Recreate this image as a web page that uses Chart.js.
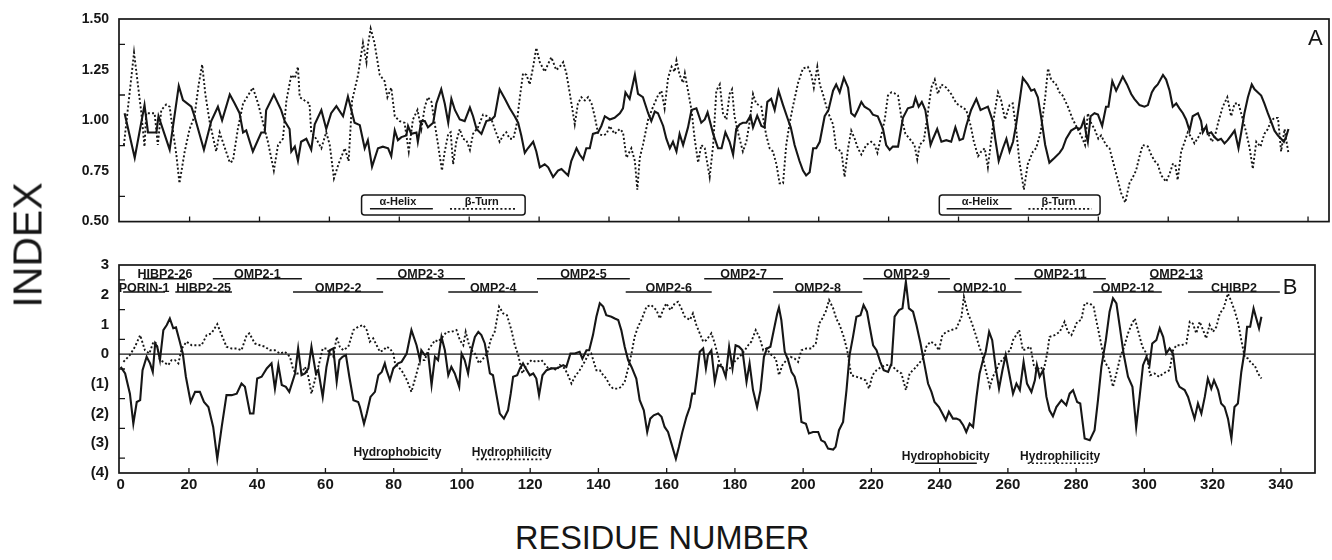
<!DOCTYPE html>
<html><head><meta charset="utf-8">
<script src="https://cdn.jsdelivr.net/npm/chart.js@4.4.1/dist/chart.umd.min.js"></script>
<style>
html,body{margin:0;padding:0;background:#fff;}
body{width:1332px;height:560px;overflow:hidden;position:relative;}
canvas{position:absolute;left:0;}
#ca{top:0;}
#cb{top:240px;}
.t{position:absolute;font-family:"Liberation Sans",Arial,Helvetica,sans-serif;color:#161616;white-space:nowrap;line-height:1;}
#yl{left:28px;top:245px;font-size:41px;transform:translate(-50%,-50%) rotate(-90deg);}
#xl{left:515px;top:538px;font-size:32.5px;transform:translateY(-50%);}
</style></head>
<body>
<canvas id="ca" width="1332" height="240"></canvas>
<canvas id="cb" width="1332" height="262"></canvas>
<div class="t" id="yl">INDEX</div>
<div class="t" id="xl">RESIDUE NUMBER</div>
<script>
// ---------- DATA ----------
// Panel A: residue number, alpha-helix index
const helixPts = [[1.4,1.035],[4.3,0.815],[7.1,1.075],[8.1,0.94],[10.5,0.94],[11.1,1.02],[14.3,0.855],[16.9,1.17],[18.1,1.1],[20.5,1.067],[21.4,1.02],[24.1,0.855],[26.2,0.996],[28.1,1.067],[29.3,1.0],[31.5,1.127],[32.9,1.083],[34.3,1.035],[35.3,0.94],[36.2,0.95],[38.1,0.846],[40.5,0.94],[41.5,0.94],[41.9,1.05],[44.1,1.127],[46.2,1.05],[47.2,0.996],[48.6,0.957],[49.1,0.846],[50.1,0.87],[51,0.80],[51.9,0.894],[53.4,0.909],[54.8,0.855],[55.8,0.98],[57.7,1.05],[59.1,0.957],[60.5,1.035],[62,1.07],[63.9,1.02],[65.3,1.117],[67.2,0.988],[68.7,0.976],[70.1,0.862],[71,0.902],[72.2,0.771],[73.9,0.862],[75.3,0.87],[76.8,0.862],[77.7,0.823],[78.7,0.95],[79.6,0.902],[80.6,0.917],[82,0.925],[82.5,0.972],[83.4,0.933],[84.9,0.94],[85.3,0.894],[86.3,0.996],
[87.3,0.996],[88.2,0.965],[89.7,0.988],[90.6,1.083],[92.0,1.153],[93.0,1.083],[94.0,0.988],[94.9,1.106],[95.9,1.051],[97.3,1.004],[98.7,0.996],[100.2,1.063],[101.1,1.020],[102.1,0.957],[103.5,0.933],[104.9,0.996],[106.4,1.004],[107.3,1.020],[108.7,1.153],[110.2,1.106],[111.6,1.059],[113.0,1.020],[114.0,0.988],[114.9,0.925],[115.9,0.839],[116.8,0.862],[118.3,0.894],[119.2,0.846],[120.2,0.768],[121.6,0.783],[122.6,0.768],[124.0,0.720],[125.4,0.752],[126.4,0.760],[128.3,0.728],[129.2,0.799],[130.7,0.862],[131.6,0.831],[132.6,0.807],[133.5,0.862],[134.5,0.862],[135.4,0.933],[136.9,0.941],[137.8,0.972],[138.8,1.020],[140.2,1.004],[141.6,1.012],[143.1,1.035],[144.0,1.059],[144.7,1.138],[145.9,1.106],[147.4,1.224],[148.3,1.130],[149.7,1.114],[151.2,1.035],[152.1,0.996],[153.1,1.043],[154.0,1.035],[155.5,0.972],[156.4,0.909],[157.4,0.862],[158.3,0.894],[159.3,0.846],[160.2,0.933],[161.2,0.878],[162.6,0.965],[163.6,1.051],[165.0,1.059],[166.4,0.988],[167.4,1.004],[168.2,1.039],[169.8,0.933],[171.2,0.862],[172.2,0.862],
[173.3,0.941],[174.5,0.894],[175.5,0.831],[176.4,0.957],[177.4,0.980],[178.3,0.988],[179.3,0.988],[180.5,1.023],[181.2,0.965],[182.4,1.023],[183.6,0.972],[184.5,0.965],[185.3,1.091],[186.4,1.106],[187.4,1.051],[188.5,1.146],[189.8,1.075],[191.2,1.004],[192.0,0.965],[193.1,0.878],[194.5,0.799],[195.5,0.752],[196.4,0.728],[197.4,0.744],[198.4,0.862],[199.3,0.862],[200.3,0.894],[201.7,1.020],[202.8,1.051],[204.1,1.146],[205.0,1.177],[206.0,1.138],[207.2,1.209],[208.4,1.161],[209.3,1.035],[210.3,1.020],[211.2,1.051],[212.2,1.091],[213.1,1.067],[214.6,1.051],[215.5,1.028],[216.9,1.020],[218.4,0.957],[219.3,0.878],[220.3,0.854],[221.2,0.870],[222.7,0.870],[224.1,1.012],[225.5,1.059],[227.0,1.067],[227.7,1.111],[228.6,1.067],[229.5,1.091],[230.5,1.051],[232.0,0.878],[232.7,0.909],[233.9,0.957],[235.1,0.894],[236.5,0.902],[237.9,0.894],[239.1,0.965],[240.3,0.902],[241.3,0.909],[242.2,0.972],[243.6,1.051],[245.1,1.106],[246.3,1.051],[247.3,1.059],[248.4,1.067],[249.8,0.996],[250.5,0.909],[251.5,0.799],[252.7,0.862],[253.7,0.909],[254.6,0.846],[255.6,0.894],[256.5,0.980],[257.5,1.098],
[258.4,1.209],[259.8,1.177],[260.8,1.146],[261.7,1.153],[262.7,1.114],[263.6,1.020],[264.8,0.878],[266.0,0.791],[267.5,0.815],[268.9,0.839],[269.8,0.862],[270.8,0.909],[272.2,0.949],[273.7,0.965],[274.6,0.957],[275.1,0.965],[275.9,1.004],[276.5,0.933],[277.0,0.894],[277.8,1.020],[278.9,1.035],[279.9,1.028],[281.1,0.972],[282.2,1.067],[282.9,1.067],[284.0,1.193],[285.1,1.146],[287.0,1.216],[288.2,1.177],[289.4,1.130],[290.3,1.106],[291.8,1.075],[293.2,1.067],[294.2,1.075],[295.3,1.138],[296.1,1.161],[297.0,1.177],[298.5,1.224],[299.4,1.201],[300.4,1.146],[301.3,1.067],[302.3,1.083],[303.2,1.059],[304.2,1.035],[305.1,1.004],[306.1,0.949],[307.0,1.020],[308.5,1.035],[309.4,0.996],[309.9,0.941],[310.9,0.972],[311.3,0.933],[312.3,0.941],[313.2,0.917],[314.2,0.902],[315.1,0.909],[316.1,0.886],[317.0,0.902],[318.0,0.925],[319.0,0.949],[320.1,0.862],[320.9,0.941],[321.8,1.035],[322.8,1.114],[323.9,1.177],[324.7,1.153],[325.6,1.138],[326.6,1.122],[327.5,1.083],[328.5,1.035],[329.4,0.996],[330.4,0.949],[331.4,0.925],[332.3,0.909],[333.1,0.894],[333.7,0.917],[334.4,0.957]];

// Panel A: residue number, beta-turn index
const turnPts = [[1.2,0.878],[4.1,1.334],[6.2,1.035],[7.1,0.870],[7.6,1.035],[10.0,1.035],[10.9,0.878],[11.9,1.051],[13.3,1.078],[14.3,1.067],[14.9,0.988],[16.2,0.831],[17.1,0.689],[18.6,0.846],[20,0.957],[21.4,1.02],[22.6,1.177],[23.6,1.275],[24.5,1.13],[25.7,0.996],[27.6,0.846],[28.6,0.94],[31.5,0.791],[32.4,0.80],[33.8,0.957],[35.3,1.083],[38.1,1.161],[39.6,1.083],[41,0.988],[42.4,0.894],[44.1,0.752],[45.3,0.878],[46.7,0.909],[47.7,1.098],[49.1,1.224],[50.1,1.208],[51,1.264],[51.5,1.114],[52.9,1.098],[54.3,1.083],[54.8,0.941],[56.2,0.909],[57.7,0.862],[59.1,0.941],[60.1,0.878],[61.3,0.713],[62.6,0.784],[64.4,0.862],[65.5,0.799],[66.5,1.098],[68.2,1.224],[69.6,1.382],[70.6,1.287],[71,1.366],[71.8,1.453],[72.9,1.382],[74.4,1.224],[75.8,1.193],[76.6,1.114],[77.7,1.161],[78.7,1.02],[80.1,0.996],[81.5,0.988],[82.7,0.846],[83.9,1.004],[85.2,1.051],[86.3,0.957],
[87.3,1.067],[88.2,1.114],[89.2,1.091],[90.1,0.988],[91.1,0.878],[92.2,0.752],[93.0,0.846],[94.0,0.933],[94.7,0.941],[95.4,0.783],[96.3,0.894],[97.3,0.957],[98.2,0.909],[99.2,0.902],[100.2,0.854],[101.1,0.933],[102.5,0.965],[103.97,1.028],[105.2,1.020],[106.4,1.004],[107.3,0.957],[108.7,0.894],[109.7,0.925],[110.6,0.941],[111.6,0.909],[112.6,0.909],[113.5,0.972],[114.5,1.114],[115.4,1.232],[116.4,1.224],[117.3,1.177],[118.3,1.264],[119.2,1.358],[120.2,1.287],[121.6,1.240],[122.6,1.279],[123.5,1.311],[124.9,1.248],[125.9,1.264],[126.9,1.287],[127.8,1.232],[128.8,1.130],[129.7,1.035],[130.2,0.980],[131.1,1.083],[132.1,1.114],[133.1,1.098],[134.0,1.114],[135.0,1.083],[135.9,1.020],[136.9,0.933],[138.3,0.925],[139.3,0.933],[140.2,0.972],[141.6,0.933],[143.1,0.957],[144.0,0.941],[145.0,0.815],[146.4,0.862],[147.4,0.799],[148.1,0.657],[148.8,0.815],[149.7,0.878],[151.2,1.004],[152.6,1.067],[154.0,1.122],[155.0,1.146],[155.9,1.059],[156.9,1.209],[157.9,1.264],[158.8,1.240],[159.3,1.295],[160.2,1.224],[161.2,1.185],[161.7,1.232],[162.6,1.146],[163.6,1.051],[164.5,0.909],[165.5,0.791],[166.4,0.878],[167.4,0.862],[168.8,0.720],[169.8,0.878],[170.7,1.146],[171.7,1.177],
[172.6,1.035],[173.6,1.004],[174.5,1.130],[175.2,1.153],[175.9,1.020],[176.9,0.941],[178.3,0.846],[179.3,0.894],[180.2,0.988],[181.2,1.130],[182.1,1.083],[183.6,1.067],[184.0,1.020],[185.0,0.925],[185.95,0.862],[186.9,0.846],[187.9,0.783],[188.8,0.689],[189.8,0.689],[190.7,0.878],[191.7,0.988],[192.6,1.067],[194.1,1.185],[195.5,1.256],[196.9,1.264],[197.9,1.224],[198.6,1.161],[199.6,1.264],[200.3,1.177],[201.2,1.130],[202.2,1.067],[203.1,1.020],[204.1,0.980],[205.0,0.862],[206.5,0.846],[207.4,0.720],[208.4,0.862],[209.3,0.949],[210.3,0.909],[211.2,0.862],[212.2,0.831],[213.6,0.878],[215.0,0.894],[216.0,0.878],[216.8,0.839],[217.9,0.925],[218.9,1.004],[219.8,1.122],[220.8,1.138],[221.7,1.133],[222.7,1.122],[223.6,1.020],[224.8,0.933],[226.0,0.909],[227.4,0.878],[228.2,0.807],[228.9,0.878],[230.1,0.902],[231.1,1.020],[232.2,1.161],[233.2,1.201],[234.1,1.130],[235.1,1.177],[236.5,1.161],[237.9,1.130],[239.4,1.083],[240.8,1.067],[242.2,1.051],[243.5,0.972],[244.4,0.894],[245.6,0.823],[246.5,0.846],[247.5,0.862],[248.4,0.768],[249.4,0.909],[250.3,1.035],[251.3,1.138],[252.2,1.098],
[253.3,1.004],[254.6,1.075],[255.5,1.083],[256.5,0.957],[257.4,0.799],[258.7,0.657],[259.8,0.783],[261.3,0.846],[262.2,0.862],[263.5,0.941],[264.1,1.020],[264.8,1.114],[265.6,1.256],[266.5,1.201],[267.9,1.177],[268.9,1.138],[269.8,1.122],[271.3,1.067],[272.7,1.004],[274.1,0.957],[275.1,0.925],[276.2,0.878],[277.0,1.035],[277.9,0.988],[278.9,0.957],[280.0,0.909],[280.8,0.925],[282.2,0.878],[283.2,0.862],[284.4,0.783],[285.6,0.705],[286.5,0.642],[287.7,0.594],[288.9,0.689],[289.9,0.720],[290.8,0.752],[291.8,0.823],[292.7,0.878],[294.2,0.870],[295.1,0.831],[296.1,0.799],[297.0,0.783],[298.0,0.728],[299.4,0.697],[300.4,0.736],[301.3,0.783],[302.0,0.783],[302.7,0.705],[303.7,0.846],[304.7,0.894],[305.6,0.941],[306.6,0.917],[307.5,0.886],[308.9,0.925],[309.9,0.965],[311.3,0.941],[312.5,0.894],[313.4,0.925],[314.4,0.996],[315.6,1.067],[316.9,1.114],[318.0,1.020],[319.0,1.083],[320.1,1.083],[321.1,1.020],[322.3,0.941],[323.3,0.862],[324.2,0.760],[325.2,0.894],[326.4,0.870],[327.5,0.933],[328.5,0.957],[329.4,0.996],[330.4,1.012],[331.4,1.012],[332.3,0.846],[333.3,0.957],[333.7,0.909],[334.4,0.839]];

// Panel B: residue number, hydrophobicity
const phobPts = [[0,-0.43],[1.3,-0.65],[2.7,-1.33],[3.7,-2.34],[4.7,-1.61],[5.7,-1.55],[6.4,-0.54],[7.6,-0.09],[8.6,-0.31],[9.4,-0.60],[10.1,0.36],[10.7,0.25],[11.5,-0.20],[12.5,0.81],[13.5,0.98],[14.4,1.20],[15.4,0.87],[16.2,0.90],[17.2,0.47],[18.2,0.02],[19.1,-0.76],[20.5,-1.61],[21.8,-1.27],[23.2,-1.27],[24.4,-1.61],[25.7,-1.78],[27.1,-2.45],[28.3,-3.52],[29.6,-2.45],[31.0,-1.38],[32.5,-1.38],[34.0,-1.33],[35.4,-0.99],[36.4,-1.10],[37.9,-2.00],[38.9,-2.00],[40.0,-0.82],[41.3,-0.76],[42.8,-0.48],[44.2,-0.31],[45.2,-1.16],[46.2,-0.37],[47.2,-1.04],[48.4,-1.10],[49.4,-1.27],[51.1,-0.65],[52.0,0.19],[53.0,-0.71],[54.0,-0.65],[55.0,-0.48],[55.9,0.25],[57.2,-0.65],[57.9,-0.54],[59.2,-1.44],[60.3,-0.43],[61.3,0.13],[62.3,0.19],[63.3,-0.93],[64.1,-0.20],[65.0,-0.09],[66.0,-0.03],[67.0,-0.76],[68.2,-1.55],[69.6,-1.61],[70.1,-1.78],[71.3,-2.34],[72.1,-2.00],[73.2,-1.44],[74.5,-1.27],[75.5,-0.71],[76.5,-0.60],[77.4,-0.31],[77.9,-0.54],[78.9,-0.88],[79.9,-0.48],[81.3,-0.31],[82.3,-0.26],
[83.8,0.02],[85.2,0.81],[86.7,0.30],[87.7,-0.20],[88.1,0.13],[89.1,-0.03],[90.1,0.02],[91.1,-1.04],[92.1,-0.09],[93.0,-0.20],[94.0,0.58],[95.0,0.13],[96.0,-0.71],[96.9,-0.43],[97.9,-0.65],[99.2,-1.10],[99.9,0.02],[100.8,-0.20],[101.8,-0.65],[102.8,0.13],[103.8,0.58],[104.8,0.75],[105.7,0.64],[106.7,0.36],[107.4,-0.09],[108.2,-0.65],[109.1,-0.71],[110.3,-1.49],[111.1,-2.00],[112.3,-2.17],[113.5,-1.89],[114.3,-1.33],[115.0,-0.76],[116.2,-0.71],[117.0,-0.48],[117.9,-0.31],[118.7,-0.48],[119.9,-0.71],[120.9,-0.65],[121.8,-0.82],[122.6,-1.38],[123.6,-0.71],[124.8,-0.54],[126.2,-0.48],[127.7,-0.48],[128.7,-0.43],[129.7,-0.37],[130.6,-0.43],[131.8,0.02],[133.1,0.02],[134.5,0.08],[135.3,-0.15],[136.5,0.13],[137.3,0.13],[138.4,0.64],[139.4,1.26],[140.4,1.71],[141.4,1.60],[142.3,1.31],[143.8,1.26],[144.8,1.20],[145.8,1.15],[146.7,0.81],[147.7,0.25],[148.7,-0.20],[149.7,-0.43],[151.1,-0.82],[152.1,-1.55],[153.3,-1.89],[154.3,-2.62],[155.2,-2.17],[156.2,-2.06],[157.5,-2.00],[158.5,-2.11],[159.4,-2.45],[160.4,-2.62],[161.4,-3.01],[162.7,-3.52],[163.6,-3.12],[164.6,-2.62],[165.8,-2.11],[166.8,-1.78],[167.5,-1.33],[168.2,-1.33],[168.9,-0.71],[169.7,0.08],[170.7,0.19],[171.5,-0.48],[172.1,-0.03],[173.1,0.13],[174.1,-0.93],[175.1,-0.37],
[176.3,-0.43],[177.3,-0.76],[178.3,0.25],[179.3,-0.48],[180.2,0.30],[181.2,0.25],[182.2,0.13],[183.4,-0.93],[184.3,-0.31],[185.3,-1.21],[186.5,-1.78],[187.5,-1.21],[188.5,-0.09],[189.4,0.19],[190.4,0.25],[191.4,0.81],[192.4,1.37],[192.9,1.57],[193.6,1.15],[194.6,0.08],[195.6,-0.20],[196.6,-0.60],[197.5,-0.76],[198.5,-1.21],[199.5,-2.28],[200.8,-2.34],[201.7,-2.67],[202.9,-2.62],[204.4,-2.62],[205.3,-2.90],[206.3,-2.96],[207.3,-3.18],[208.8,-3.21],[209.5,-3.12],[210.5,-2.56],[211.7,-2.28],[212.7,-1.21],[213.6,-0.03],[214.6,0.58],[215.6,1.26],[216.8,1.31],[217.7,1.65],[218.7,1.43],[219.5,0.92],[220.5,0.30],[221.5,0.13],[222.6,-0.26],[223.6,-0.54],[224.9,-0.60],[225.9,-0.31],[226.8,1.26],[228.1,1.48],[229.1,1.54],[230.1,2.44],[231.0,1.54],[232.2,1.43],[233.2,0.98],[234.4,0.36],[235.3,-0.20],[236.6,-0.99],[237.6,-1.27],[238.5,-1.61],[239.8,-1.78],[240.8,-2.00],[241.8,-2.22],[242.7,-1.94],[243.9,-2.17],[244.9,-2.17],[245.9,-2.22],[246.9,-2.39],[247.8,-2.62],[248.8,-2.34],[249.8,-2.45],[250.8,-1.44],[251.7,-0.65],[252.7,-0.20],[253.5,0.08],[254.5,0.75],[255.4,0.47],[256.4,-0.43],[257.4,-1.16],[258.4,-0.54],[259.35,-0.03],[260.3,-0.60],[261.5,-1.33],[262.5,-0.99],[263.5,-1.21],
[264.6,-0.26],[265.6,-0.99],[266.9,-1.27],[267.9,-0.88],[268.5,-0.37],[269.3,-0.76],[270.3,-0.54],[271.3,-1.44],[272.2,-1.89],[273.2,-2.09],[274.2,-1.78],[275.7,-1.55],[277.1,-1.72],[278.1,-1.33],[279.1,-1.21],[280.3,-1.61],[281.2,-1.66],[282.5,-2.84],[284.0,-2.90],[285.4,-2.56],[286.4,-1.55],[287.4,-0.43],[288.7,0.47],[289.8,1.43],[290.8,1.88],[291.8,1.71],[292.8,0.92],[293.9,0.02],[295.2,-0.76],[296.5,-1.10],[297.6,-2.45],[298.6,-1.44],[299.6,-0.37],[300.6,-0.09],[301.5,-0.37],[302.3,0.36],[303.5,0.47],[304.5,0.87],[305.5,0.58],[306.4,0.02],[307.4,0.19],[308.4,0.02],[309.4,-0.88],[310.3,-1.10],[311.8,-1.21],[312.8,-1.44],[313.8,-1.83],[314.7,-2.17],[315.7,-1.66],[316.7,-2.00],[317.7,-1.44],[318.6,-0.82],[319.6,-1.16],[320.4,-0.88],[321.6,-1.21],[322.5,-1.66],[323.5,-1.78],[324.5,-2.17],[325.5,-2.84],[326.4,-1.78],[327.4,-1.66],[328.4,-0.60],[329.4,0.13],[330.1,0.92],[331.0,0.92],[332.0,1.54],[332.8,1.20],[333.6,0.87],[334.3,1.26]];

// Panel B: residue number, hydrophilicity
const philPts = [[0.8,-0.26],[2.7,-0.03],[4.2,0.25],[5.7,0.64],[7.1,0.13],[8.4,0.02],[9.6,0.42],[10.5,0.36],[11.5,-0.20],[12.5,-0.26],[13.96,-0.37],[14.9,-0.20],[15.9,-0.20],[16.9,-0.31],[17.9,0.19],[19.3,0.42],[20.8,0.30],[22.3,0.30],[23.7,0.30],[25.2,0.64],[26.6,0.70],[28.3,1.01],[29.6,0.64],[31.0,0.25],[32.5,0.19],[34.0,0.19],[35.4,0.13],[36.9,0.64],[37.7,0.70],[39.3,0.36],[40.8,0.30],[42.3,0.25],[43.7,0.13],[45.2,0.13],[46.7,0.02],[48.1,0.08],[49.6,-0.09],[50.6,-0.54],[51.6,-0.65],[53.0,-0.65],[54.0,-0.43],[55.0,-0.76],[55.9,-1.33],[56.9,-0.88],[57.9,-0.43],[59.2,0.19],[60.3,0.19],[61.3,0.02],[62.3,-0.09],[63.3,0.58],[64.2,0.25],[65.2,0.13],[66.7,0.25],[68.2,0.81],[69.6,0.92],[71.1,0.98],[72.1,0.81],[73.0,0.42],[74.0,0.53],[75.0,0.30],[75.97,0.08],[77.0,0.13],[77.9,0.25],[78.9,0.19],[79.9,0.02],[80.4,-0.31],[81.3,-0.43],[82.3,-0.54],
[83.9,-0.88],[85.2,-1.27],[86.7,-0.65],[87.7,-0.20],[89.1,-0.20],[90.1,0.13],[91.1,0.30],[92.1,0.47],[93.0,0.42],[94.0,0.53],[95.5,0.75],[96.9,0.75],[98.4,0.81],[99.4,0.47],[100.4,0.30],[101.1,0.75],[102.1,0.30],[102.8,0.13],[103.8,0.02],[105.0,-0.31],[106.2,-0.15],[107.4,0.02],[108.4,0.47],[109.6,0.75],[110.9,1.60],[112.1,1.37],[113.2,1.31],[114.5,0.81],[115.5,0.30],[116.5,-0.03],[117.7,-0.65],[118.9,-0.37],[120.4,-0.20],[121.8,-0.26],[123.3,-0.20],[125.3,-0.48],[126.7,-0.48],[127.7,-0.54],[128.7,-0.37],[130.1,-0.48],[131.1,-0.71],[132.1,-0.99],[133.1,-0.76],[134.5,-0.54],[135.7,-0.31],[137.0,-0.03],[137.9,0.02],[139.4,-0.54],[140.4,-0.54],[141.4,-0.71],[142.3,-0.82],[143.3,-1.04],[144.3,-1.16],[145.8,-1.16],[146.7,-1.10],[147.7,-0.93],[148.7,-0.48],[149.7,0.02],[150.6,0.58],[151.6,0.92],[152.6,1.15],[154.1,1.60],[155.5,1.65],[157.0,1.48],[158.0,1.20],[158.9,1.48],[159.9,1.71],[161.1,1.48],[162.4,1.71],[163.3,1.76],[164.3,1.54],[165.3,1.26],[166.8,1.15],[167.7,1.37],[168.7,0.98],[169.7,0.70],[170.7,0.42],[171.6,0.47],[173.1,0.70],[174.1,0.36],[175.1,-0.09],
[175.4,-0.26],[176.5,-0.48],[178.0,-0.54],[179.3,-0.37],[180.2,-0.20],[181.4,-0.09],[182.6,0.08],[183.9,0.30],[184.8,0.42],[186.1,0.81],[187.3,0.53],[188.3,0.13],[189.2,0.19],[190.7,-0.03],[192.0,-0.15],[192.9,-0.71],[193.9,-0.37],[195.1,-0.20],[196.3,-0.09],[197.5,-0.15],[198.5,-0.26],[199.5,0.13],[200.9,0.19],[202.4,0.19],[203.7,0.36],[204.7,1.03],[205.6,1.20],[206.6,1.43],[207.6,1.82],[208.8,1.54],[209.7,1.20],[210.7,0.98],[211.9,0.58],[212.9,0.13],[214.1,-0.71],[215.6,-0.76],[217.1,-0.82],[218.3,-0.88],[219.3,-1.16],[220.3,-0.71],[221.5,-0.54],[222.9,-0.43],[224.4,-0.37],[225.9,-0.37],[227.3,-0.54],[228.8,-0.65],[230.1,-1.21],[231.2,-0.65],[232.7,-0.48],[233.96,-0.31],[235.1,-0.15],[236.1,0.25],[237.3,0.42],[238.5,0.36],[239.8,0.13],[240.8,0.64],[242.0,0.75],[243.4,0.81],[244.9,0.87],[246.4,1.26],[247.1,1.93],[248.3,1.37],[249.3,1.09],[250.3,0.75],[251.5,0.30],[252.5,-0.03],[253.5,-0.54],[254.7,-1.10],[255.6,-0.76],[256.6,-0.54],[257.6,-0.26],[258.6,-0.20],[259.5,0.02],[260.7,0.13],[261.5,0.47],[263.0,0.75],
[263.3,0.81],[264.4,0.13],[265.6,0.19],[266.6,0.25],[267.6,-0.37],[268.5,-0.54],[269.5,-0.43],[270.5,-0.54],[271.5,0.02],[272.2,0.58],[273.7,0.64],[275.2,0.75],[276.6,1.09],[277.6,0.75],[278.6,0.64],[279.3,0.81],[280.3,1.09],[281.5,1.15],[282.5,1.71],[284.0,1.71],[285.1,1.60],[286.1,1.03],[287.1,0.47],[288.4,-0.26],[289.6,-0.48],[290.8,-1.10],[291.8,-0.65],[292.95,-0.09],[293.9,0.19],[295.2,0.70],[296.2,0.98],[297.2,1.20],[298.1,0.81],[299.4,0.25],[300.6,0.02],[301.7,-0.71],[303.0,-0.65],[304.3,-0.76],[305.5,-0.65],[306.4,-0.60],[307.4,-0.54],[308.4,0.13],[309.4,0.30],[310.8,0.30],[312.3,0.36],[313.3,1.09],[314.2,1.03],[315.2,0.70],[316.2,1.09],[317.2,0.81],[318.1,0.53],[319.1,0.98],[320.1,0.75],[321.1,0.92],[322.1,1.37],[323.2,1.54],[324.5,2.04],[325.5,1.76],[326.4,1.48],[327.4,1.09],[328.4,0.47],[329.4,-0.09],[330.4,-0.15],[331.3,-0.31],[332.3,-0.37],[333.3,-0.65],[334.3,-0.82]];

// Tick values and labels
const xTickValues = [0,20,40,60,80,100,120,140,160,180,200,220,240,260,280,300,320,340];
const yTickValuesA = [0.5,0.75,1.0,1.25,1.5];
const yTickLabelsA = ['0.50','0.75','1.00','1.25','1.50'];
const yMinorA = [0.625,0.875,1.125,1.375];
const yTickValuesB = [-4,-3,-2,-1,0,1,2,3];
const yTickLabelsB = ['(4)','(3)','(2)','(1)','0','1','2','3'];
const yMinorB = [-3.5,-2.5,-1.5,-0.5,0.5,1.5,2.5];

// Peptide regions (residue from, residue to) and label row
const peptideNames = ['HIBP2-26','OMP2-1','OMP2-3','OMP2-5','OMP2-7','OMP2-9','OMP2-11','OMP2-13','PORIN-1','HIBP2-25','OMP2-2','OMP2-4','OMP2-6','OMP2-8','OMP2-10','OMP2-12','CHIBP2'];
const peptideFrom  = [6.5,27,75,122,171,217.6,262,301.6,0.7,16,50.5,96,148,191.2,239.5,285,312.8];
const peptideTo    = [19.4,53.1,100.9,149.2,194.1,243,288.7,317.1,13,32.6,76.9,122.3,173.2,217.3,264,305.1,339.7];
const peptideRow   = [1,1,1,1,1,1,1,1,2,2,2,2,2,2,2,2,2];

// ---------- RENDERING ----------
const FONT = '"Liberation Sans", Arial, Helvetica, sans-serif';
const INK = '#161616';

function makeDeco(cfg){
  return {
    id:'deco',
    afterDatasetsDraw(chart){
      const {ctx, chartArea:ca} = chart;
      const X = chart.scales.x, Y = chart.scales.y;
      const px = v => X.getPixelForValue(v), py = v => Y.getPixelForValue(v);
      ctx.save();
      ctx.strokeStyle = INK; ctx.fillStyle = INK; ctx.setLineDash([]);
      ctx.lineWidth = 1.7;
      ctx.strokeRect(ca.left, ca.top, ca.right - ca.left, ca.bottom - ca.top);
      ctx.lineWidth = 1.3;
      ctx.beginPath();
      cfg.yMinor.forEach(v => { const y = py(v); ctx.moveTo(ca.left, y); ctx.lineTo(ca.left + 6, y); });
      xTickValues.forEach(v => { if (v === 0) return; const x = px(v); ctx.moveTo(x, ca.bottom); ctx.lineTo(x, ca.bottom - 5); });
      ctx.stroke();
      if (cfg.zero) {
        ctx.lineWidth = 1.4; ctx.beginPath();
        ctx.moveTo(ca.left, py(0)); ctx.lineTo(ca.right, py(0)); ctx.stroke();
      }
      (cfg.boxes || []).forEach(b => {
        ctx.lineWidth = 1.5; ctx.setLineDash([]);
        ctx.beginPath();
        ctx.roundRect(px(b.a), py(b.top), px(b.b) - px(b.a), py(b.bot) - py(b.top), 3);
        ctx.stroke();
      });
      (cfg.segs || []).forEach(s => {
        ctx.lineWidth = s.dot ? 1.6 : 1.5;
        ctx.setLineDash(s.dot ? [2, 2.2] : []);
        ctx.beginPath(); ctx.moveTo(px(s.a), py(s.v)); ctx.lineTo(px(s.b), py(s.v)); ctx.stroke();
      });
      ctx.setLineDash([]);
      (cfg.texts || []).forEach(t => {
        ctx.font = t.font; ctx.textAlign = 'center'; ctx.textBaseline = t.base || 'middle';
        ctx.fillText(t.t, px(t.u), py(t.v) + (t.dy || 0));
      });
      ctx.restore();
    }
  };
}

function lineDs(pts, dotted){
  return {
    data: pts.map(p => ({x:p[0], y:p[1]})),
    borderColor: INK, borderWidth: dotted ? 1.9 : 2.1,
    borderDash: dotted ? [2, 2.2] : [],
    pointRadius: 0, tension: 0, fill: false
  };
}

function baseOptions(o){
  return {
    responsive:false, animation:false, events:[],
    layout:{padding:o.pad},
    plugins:{legend:{display:false}, tooltip:{enabled:false}},
    scales:{
      x:{type:'linear', min:o.xmin, max:o.xmax,
         afterFit: s => { s.height = o.xh; },
         afterBuildTicks: s => { s.ticks = xTickValues.map(v => ({value:v})); },
         grid:{display:false, drawTicks:false}, border:{display:false},
         ticks:{display:o.xlabels, autoSkip:false, maxRotation:0, padding:o.xpad, color:INK,
                font:{family:FONT, size:15, weight:'bold'}}},
      y:{type:'linear', min:o.ymin, max:o.ymax,
         afterFit: s => { s.width = o.yw; },
         afterBuildTicks: s => { s.ticks = o.yv.map(v => ({value:v})); },
         grid:{display:false, drawTicks:false}, border:{display:false},
         ticks:{padding:10, color:INK, font:{family:FONT, size:o.yfs, weight:'bold'},
                callback: v => o.yl[o.yv.indexOf(v)]}}
    }
  };
}

// Panel A
const legendFont = 'bold 11px ' + FONT;
new Chart(document.getElementById('ca'), {
  type:'line',
  data:{datasets:[lineDs(helixPts,false), lineDs(turnPts,true)]},
  options: baseOptions({pad:{top:19,right:3,left:0,bottom:0}, xmin:-0.2, xmax:346.0, xh:10, xlabels:false, xpad:0,
                        ymin:0.5, ymax:1.5, yw:119, yv:yTickValuesA, yl:yTickLabelsA, yfs:14}),
  plugins:[makeDeco({
    yMinor:yMinorA, zero:false,
    boxes:[{a:69.2,b:116.0,top:0.631,bot:0.532},{a:234.5,b:280.5,top:0.631,bot:0.532}],
    segs:[{a:71.6,b:89.6,v:0.563,dot:false},{a:94.5,b:113.1,v:0.563,dot:true},
          {a:236.6,b:255.2,v:0.563,dot:false},{a:260.0,b:278.1,v:0.563,dot:true}],
    texts:[{t:'α-Helix',u:79.6,v:0.595,font:legendFont},{t:'β-Turn',u:103.6,v:0.595,font:legendFont},
           {t:'α-Helix',u:246.2,v:0.595,font:legendFont},{t:'β-Turn',u:268.6,v:0.595,font:legendFont},
           {t:'A',u:342.1,v:1.404,font:'22px ' + FONT}]
  })]
});

// Panel B
const pepFont = 'bold 12.5px ' + FONT;
const hydFont = 'bold 12px ' + FONT;
const rowV = {1:2.54, 2:2.09};
const pepSegs = peptideNames.map((n,i) => ({a:peptideFrom[i], b:peptideTo[i], v:rowV[peptideRow[i]], dot:false}));
const pepTexts = peptideNames.map((n,i) => ({t:n, u:(peptideFrom[i]+peptideTo[i])/2, v:rowV[peptideRow[i]], font:pepFont, base:'alphabetic', dy:-0.5}));
new Chart(document.getElementById('cb'), {
  type:'line',
  data:{datasets:[lineDs(phobPts,false), lineDs(philPts,true)]},
  options: baseOptions({pad:{top:25,right:17,left:0,bottom:0}, xmin:-0.5, xmax:350, xh:29, xlabels:true, xpad:3,
                        ymin:-4, ymax:3, yw:119, yv:yTickValuesB, yl:yTickLabelsB, yfs:15}),
  plugins:[makeDeco({
    yMinor:yMinorB, zero:true,
    segs: pepSegs.concat([
      {a:71.0,b:90.0,v:-3.54,dot:false},{a:104.3,b:123.7,v:-3.54,dot:true},
      {a:232.7,b:250.9,v:-3.67,dot:false},{a:265.8,b:285.5,v:-3.67,dot:true}]),
    texts: pepTexts.concat([
      {t:'Hydrophobicity',u:81.1,v:-3.33,font:hydFont},{t:'Hydrophilicity',u:114.6,v:-3.33,font:hydFont},
      {t:'Hydrophobicity',u:241.8,v:-3.46,font:hydFont},{t:'Hydrophilicity',u:275.3,v:-3.44,font:hydFont},
      {t:'B',u:342.7,v:2.24,font:'22px ' + FONT}])
  })]
});
</script>
</body></html>
